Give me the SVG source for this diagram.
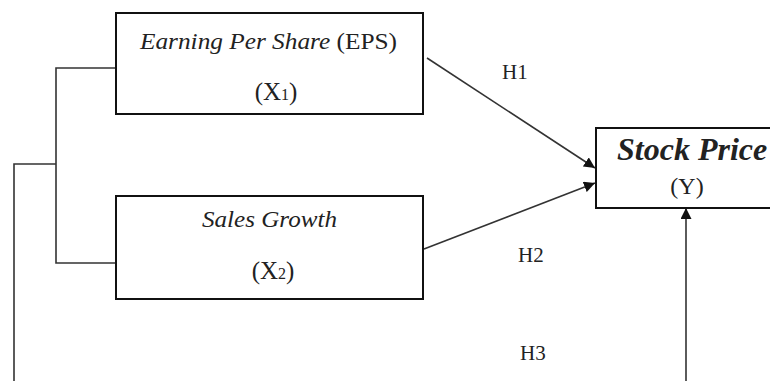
<svg xmlns="http://www.w3.org/2000/svg" width="770" height="381" viewBox="0 0 770 381">
<defs>
<marker id="ah" viewBox="0 0 10 10" refX="10" refY="5" markerWidth="11" markerHeight="11" markerUnits="userSpaceOnUse" orient="auto">
<path d="M0,0 L10,5 L0,10 z" fill="#111"/>
</marker>
</defs>
<style>
.box{fill:#fff;stroke:#111;stroke-width:2}
.ln{fill:none;stroke:#333;stroke-width:1.6}
.t{font-family:"Liberation Serif","Times New Roman",serif;fill:#222}
.i{font-style:italic}
</style>
<rect width="770" height="381" fill="#fff"/>
<g id="connectors">
<polyline class="ln" points="116,68 56,68 56,263 116,263"/>
<polyline class="ln" points="14,381 14,164 56,164"/>
<line class="ln" x1="427" y1="58" x2="595" y2="168" marker-end="url(#ah)"/>
<line class="ln" x1="424" y1="249" x2="595" y2="183" marker-end="url(#ah)"/>
<line class="ln" x1="686" y1="381" x2="686" y2="208" marker-end="url(#ah)"/>
<text class="t" x="502" y="79" font-size="21">H1</text>
<text class="t" x="518" y="262" font-size="21">H2</text>
<text class="t" x="520" y="360" font-size="21">H3</text>
</g>
<g id="eps">
<rect class="box" x="116" y="13" width="307" height="101"/>
<text class="t" x="140" y="49" font-size="23" textLength="257" lengthAdjust="spacingAndGlyphs"><tspan class="i">Earning Per Share</tspan> (EPS)</text>
<text class="t" x="276" y="100" font-size="25" text-anchor="middle">(X<tspan font-size="16">1</tspan>)</text>
</g>
<g id="sales">
<rect class="box" x="116" y="196" width="307" height="103"/>
<text class="t i" x="202" y="227" font-size="23" textLength="135" lengthAdjust="spacingAndGlyphs">Sales Growth</text>
<text class="t" x="273" y="279" font-size="25" text-anchor="middle">(X<tspan font-size="16">2</tspan>)</text>
</g>
<g id="stock">
<rect class="box" x="596" y="128" width="185" height="80"/>
<text class="t i" x="617" y="160" font-size="32" font-weight="bold" fill="#444">Stock Price</text>
<text class="t" x="687" y="194" font-size="24" text-anchor="middle">(Y)</text>
</g>
</svg>
